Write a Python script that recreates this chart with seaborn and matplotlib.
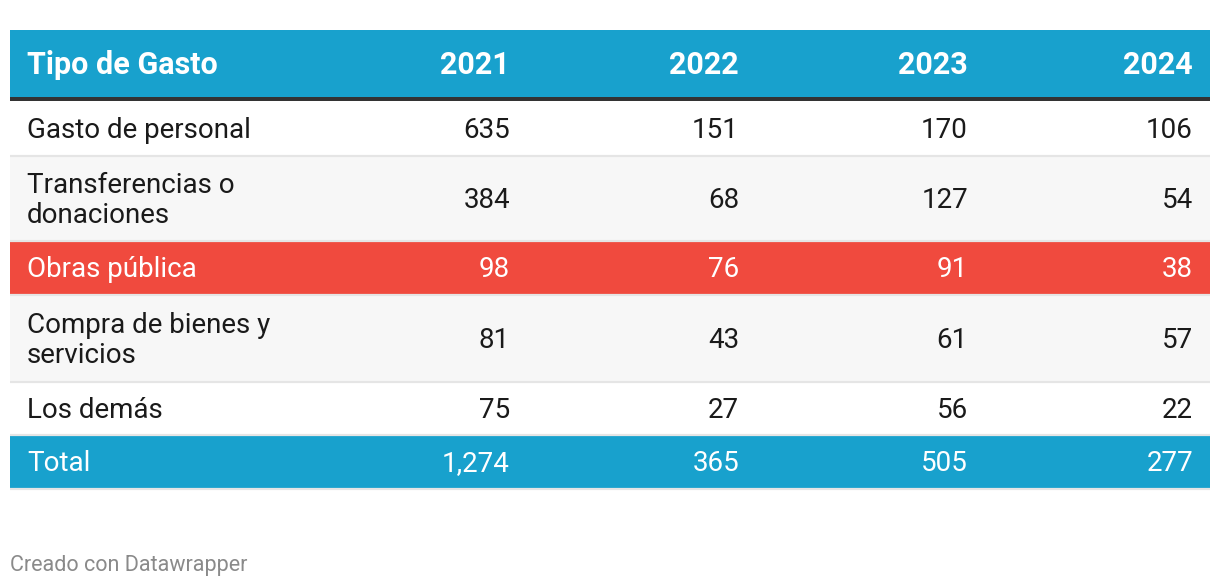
import matplotlib
matplotlib.use("Agg")
import matplotlib.pyplot as plt
from matplotlib.patches import Rectangle
import seaborn as sns

# ---- data ----
header_label = "Tipo de Gasto"
years = ["2021", "2022", "2023", "2024"]
categories = ["Gasto de personal", "Transferencias o\ndonaciones", "Obras pública",
              "Compra de bienes y\nservicios", "Los demás", "Total"]
v2021 = ["635", "384", "98", "81", "75", "1,274"]
v2022 = ["151", "68", "76", "43", "27", "365"]
v2023 = ["170", "127", "91", "61", "56", "505"]
v2024 = ["106", "54", "38", "57", "22", "277"]
footer = "Creado con Datawrapper"

# ---- style / layout ----
sns.set_theme(style="white")
plt.rcParams['font.family'] = ['Roboto', 'DejaVu Sans']

BLUE = "#18a1cd"
RED = "#f04a3e"
STRIPE = "#f7f7f7"
SEP = "#e5e5e5"
DARK = "#333333"

W, H = 1220, 586
fig = plt.figure(figsize=(W / 100, H / 100), dpi=100)
ax = fig.add_axes([0, 0, 1, 1])
ax.set_xlim(0, W)
ax.set_ylim(H, 0)
ax.axis("off")

left, right = 10, 1210
col_right = [510, 739, 968, 1193]
label_x = 27

HEAD_FS = 22
BODY_FS = 20
CAP = 0.711 * 100 / 72  # cap height in px per pt (Roboto)
LINE_GAP = 30

# header
ax.add_patch(Rectangle((left, 30), right - left, 67, color=BLUE, lw=0))
ax.add_patch(Rectangle((left, 97), right - left, 4, color=DARK, lw=0))
hb = 63 + HEAD_FS * CAP / 2
ax.text(label_x, hb, header_label, color="white", fontsize=HEAD_FS, fontweight="bold",
        ha="left", va="baseline")
for x, y in zip(col_right, years):
    ax.text(x, hb, y, color="white", fontsize=HEAD_FS, fontweight="bold",
            ha="right", va="baseline")

# rows: (top, bottom)
row_bounds = [(101, 155), (155, 240), (240, 294), (294, 381), (381, 434), (434, 488)]
bg = ["white", STRIPE, RED, STRIPE, "white", BLUE]
fg = ["#1a1a1a", "#1a1a1a", "white", "#1a1a1a", "#1a1a1a", "white"]

cols = [v2021, v2022, v2023, v2024]
for i, cat in enumerate(categories):
    top, bot = row_bounds[i]
    ax.add_patch(Rectangle((left, top), right - left, bot - top, color=bg[i], lw=0))
    ax.plot([left, right], [bot + 0.5, bot + 0.5], color=SEP, lw=1.6, solid_capstyle="butt")
    cy = (top + bot) / 2 + 0.5
    base = cy + BODY_FS * CAP / 2
    lines = cat.split("\n")
    n = len(lines)
    for j, ln in enumerate(lines):
        ax.text(label_x, base + (j - (n - 1) / 2) * LINE_GAP, ln, color=fg[i],
                fontsize=BODY_FS, ha="left", va="baseline")
    for x, col in zip(col_right, cols):
        ax.text(x, base, col[i], color=fg[i], fontsize=BODY_FS, ha="right", va="baseline")

ax.text(10, 563 + 15.5 * CAP / 2, footer, color="#8a8a8a", fontsize=15.5,
        ha="left", va="baseline")

fig.savefig("out.png", dpi=100, facecolor="white")
